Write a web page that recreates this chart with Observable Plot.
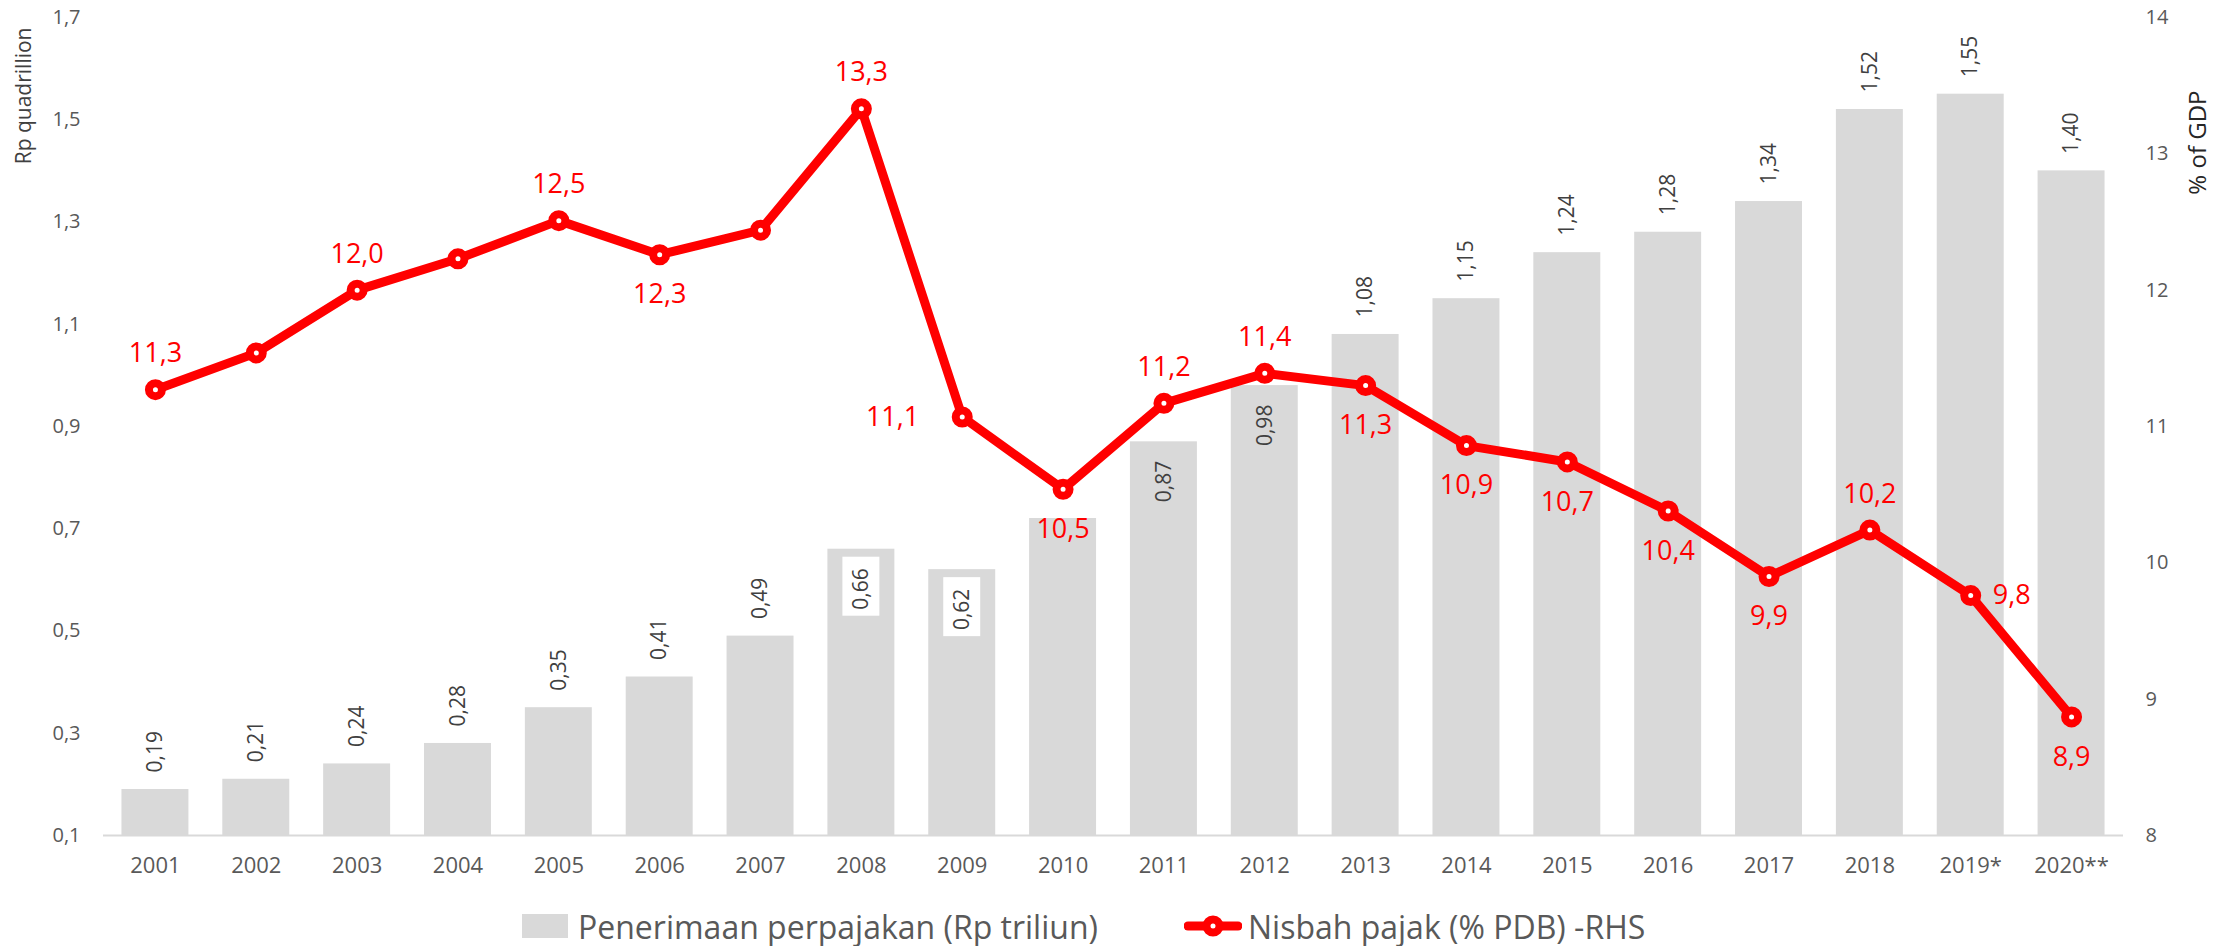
<!DOCTYPE html>
<html>
<head>
<meta charset="utf-8">
<script src="https://cdn.jsdelivr.net/npm/d3@7"></script>
<script src="https://cdn.jsdelivr.net/npm/@observablehq/plot@0.6"></script>
<style>
  body { margin: 0; background: #fff; font-family: "Open Sans", sans-serif; }
  #wrap { position: relative; width: 2226px; height: 946px; overflow: hidden; }
  #legend { position: absolute; left: 522px; top: 903px; height: 46px; display: flex; align-items: center;
            color: #595959; font-size: 32px; font-family: "Open Sans", sans-serif; white-space: nowrap; }
</style>
</head>
<body>
<div id="wrap">
  <div id="legend">
    <span style="display:inline-block;width:46px;height:24px;background:#d9d9d9;margin-right:10px"></span>
    <span>Penerimaan perpajakan (Rp triliun)</span>
    <svg width="58" height="26" style="margin-left:86px;margin-right:6px">
      <line x1="4" x2="54" y1="13" y2="13" stroke="#ff0000" stroke-width="9" stroke-linecap="round"></line>
      <circle cx="29" cy="13" r="6.5" fill="#fff" stroke="#ff0000" stroke-width="8"></circle>
    </svg>
    <span>Nisbah pajak (% PDB) -RHS</span>
  </div>
</div>
<script>
// ---- data ----
const years = ["2001","2002","2003","2004","2005","2006","2007","2008","2009","2010",
               "2011","2012","2013","2014","2015","2016","2017","2018","2019*","2020**"];
const revenue = [0.19,0.21,0.24,0.28,0.35,0.41,0.49,0.66,0.62,0.72,
                 0.87,0.98,1.08,1.15,1.24,1.28,1.34,1.52,1.55,1.40];
const taxRatio = [11.27,11.54,12.0,12.23,12.51,12.26,12.44,13.33,11.07,10.54,
                  11.17,11.39,11.3,10.86,10.74,10.38,9.9,10.24,9.76,8.87];
const leftTicks = [0.1,0.3,0.5,0.7,0.9,1.1,1.3,1.5,1.7];
const rightTicks = [8,9,10,11,12,13,14];
const leftTitle = "Rp quadrillion";
const rightTitle = "% of GDP";

// ---- label placement (layout config) ----
const ratioLabelPos = {"2001":"above","2003":"above","2005":"above","2006":"below","2008":"above",
  "2009":"left","2010":"below","2011":"above","2012":"above","2013":"below","2014":"below",
  "2015":"below","2016":"below","2017":"below","2018":"above","2019*":"right","2020**":"below"};
const barLabelPos = {"2008":"box","2009":"box","2010":"none","2011":"inside","2012":"inside"};

const W = 2226, H = 885, ML = 103, MR = 103, MT = 17, MB = 50;
const xOpts = {type: "band", domain: years, paddingInner: 0.336, paddingOuter: 0.183, round: false, label: null};
const comma = (v, d) => v.toFixed(d).replace(".", ",");
const FONT = "'Open Sans', 'Noto Sans', sans-serif";

const bars = years.map((y, i) => ({year: y, v: revenue[i], pos: barLabelPos[y] || "outside"}));
const pts = years.map((y, i) => ({year: y, v: taxRatio[i], pos: ratioLabelPos[y] || "none"}));

const p1 = Plot.plot({
  width: W, height: H, marginLeft: ML, marginRight: MR, marginTop: MT, marginBottom: MB,
  style: {fontFamily: FONT, color: "#595959", background: "transparent"},
  x: xOpts,
  y: {domain: [0.1, 1.7], label: null},
  marks: [
    Plot.barY(bars, {x: "year", y1: () => 0.1, y2: "v", fill: "#d9d9d9"}),
    Plot.ruleY([0.1], {stroke: "#d9d9d9", strokeWidth: 2}),
    Plot.axisY(leftTicks, {anchor: "left", tickSize: 0, tickPadding: 23, fontSize: 20,
      tickFormat: d => comma(d, 1), label: null}),
    Plot.axisX({anchor: "bottom", tickSize: 0, tickPadding: 22, fontSize: 22, label: null}),
    Plot.barY(bars.filter(d => d.pos === "box"), {x: "year", y1: "v", y2: "v", fill: "white",
      insetTop: 8, insetBottom: -67, insetLeft: 15, insetRight: 15}),
    Plot.text(bars.filter(d => d.pos === "outside"), {x: "year", y: "v", text: d => comma(d.v, 2),
      rotate: -90, textAnchor: "start", lineAnchor: "middle", dy: -17, fontSize: 21, fill: "#404040"}),
    Plot.text(bars.filter(d => d.pos === "inside" || d.pos === "box"), {x: "year", y: "v", text: d => comma(d.v, 2),
      rotate: -90, textAnchor: "end", lineAnchor: "middle", dy: 19, fontSize: 21, fill: "#404040"}),
    Plot.text([leftTitle], {frameAnchor: "top-left", rotate: -90, textAnchor: "end", lineAnchor: "middle",
      dx: -79, dy: 10, fontSize: 21, fill: "#404040"})
  ]
});

const lbl = (pos, o) => Plot.text(pts.filter(d => d.pos === pos), {x: "year", y: "v", text: d => comma(d.v, 1),
  fill: "#ff0000", fontSize: 27, lineAnchor: "middle", ...o});

const p2 = Plot.plot({
  width: W, height: H, marginLeft: ML, marginRight: MR, marginTop: MT, marginBottom: MB,
  style: {fontFamily: FONT, color: "#595959", background: "transparent"},
  x: {...xOpts, axis: null},
  y: {domain: [8, 14], label: null},
  marks: [
    Plot.axisY(rightTicks, {anchor: "right", tickSize: 0, tickPadding: 22, fontSize: 20,
      tickFormat: d => String(d), label: null}),
    Plot.lineY(pts, {x: "year", y: "v", stroke: "#ff0000", strokeWidth: 9, strokeLinejoin: "round"}),
    Plot.dot(pts, {x: "year", y: "v", r: 6.5, fill: "white", stroke: "#ff0000", strokeWidth: 8}),
    lbl("above", {dy: -36}),
    lbl("below", {dy: 40}),
    lbl("left", {dx: -43, textAnchor: "end"}),
    lbl("right", {dx: 22, textAnchor: "start"}),
    Plot.text([rightTitle], {frameAnchor: "top-right", rotate: -90, textAnchor: "end", lineAnchor: "middle",
      dx: 75, dy: 73, fontSize: 24, fill: "#262626"})
  ]
});

for (const p of [p1, p2]) {
  p.style.position = "absolute";
  p.style.left = "0px";
  p.style.top = "0px";
  p.style.maxWidth = "none";
}
const wrap = document.getElementById("wrap");
wrap.insertBefore(p2, wrap.firstChild);
wrap.insertBefore(p1, wrap.firstChild);
</script>
</body>
</html>
